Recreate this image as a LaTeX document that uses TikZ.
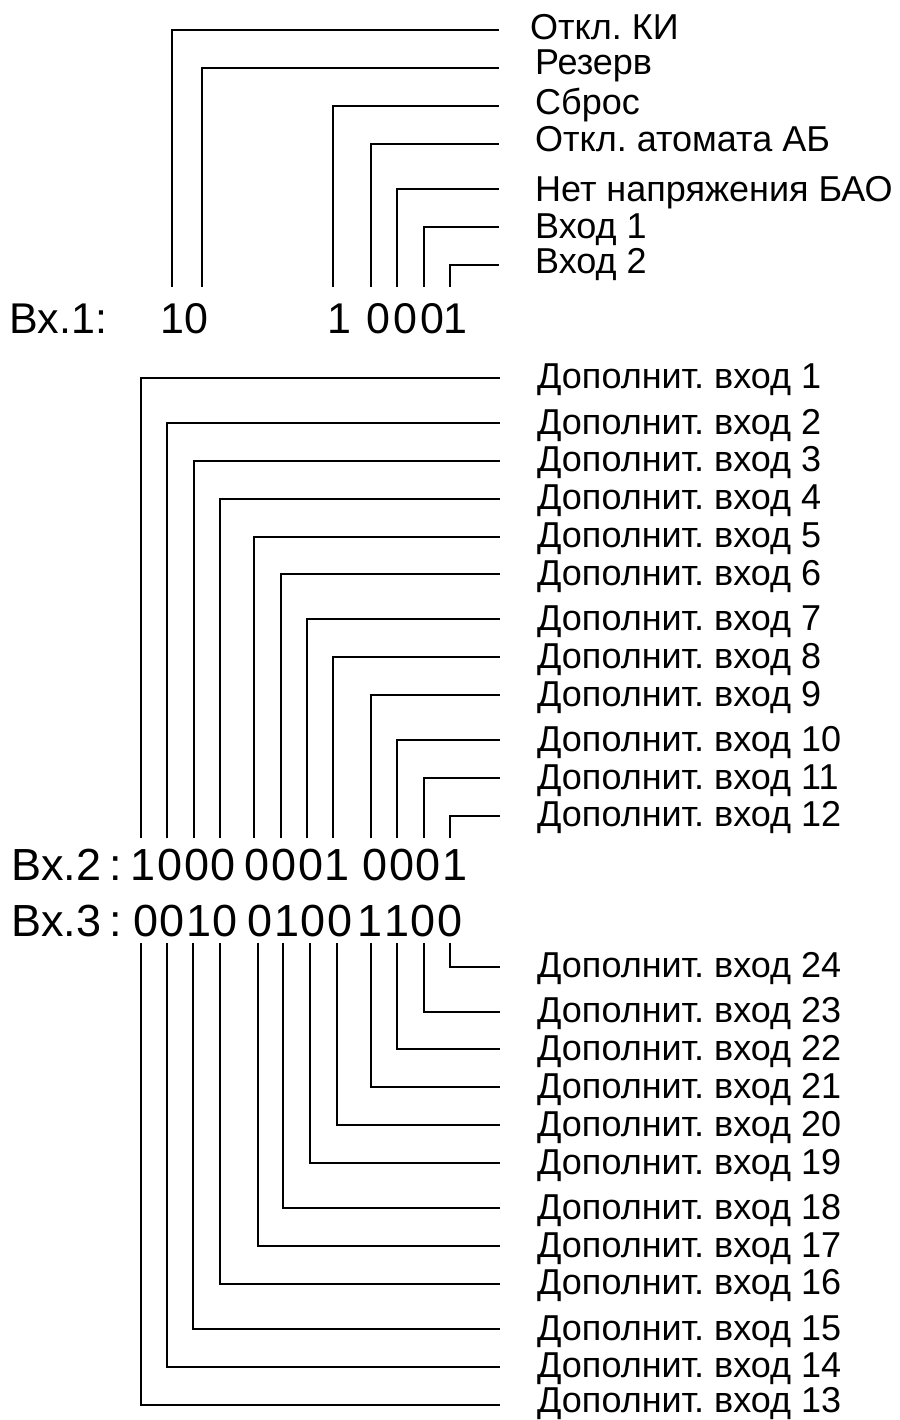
\documentclass[tikz,border=0pt]{standalone}
\usepackage{fontspec}
\setmainfont{Liberation Sans}
\frenchspacing
\begin{document}
\frenchspacing
\begin{tikzpicture}[x=1pt,y=-1pt,
  wire/.style={line width=1.8pt, line join=miter},
  lab/.style={anchor=base west, inner sep=0pt, font=\fontsize{36}{40}\selectfont},
  dig/.style={anchor=base, inner sep=0pt, font=\fontsize{45}{50}\selectfont},
  digA/.style={anchor=base, inner sep=0pt, font=\fontsize{43}{48}\selectfont},
  head/.style={anchor=base west, inner sep=0pt}]
\useasboundingbox (0,0) rectangle (899,1420);

% ---- Bx.1 section
\foreach \i/\vx/\hy/\bl/\lx/\t in {
  1/172/30/39.3/530/{Откл. КИ},
  2/202/67.7/75/535/{Резерв},
  3/333/106/115/535/{Сброс},
  4/371/144/151.7/535/{Откл. атомата АБ},
  5/397/189.3/201.7/535/{Нет напряжения БАО},
  6/424/227.3/238.3/535/{Вход 1},
  7/450/265/273.3/535/{Вход 2}} {
  \coordinate (ta\i) at (\vx,287);
  \coordinate (tb\i) at (499,\hy);
  \draw[wire] (ta\i) |- (tb\i);
  \node[lab] (tl\i) at (\lx,\bl) {\t};
}
\node[head, font=\fontsize{43}{48}\selectfont] (bx1) at (9.5,333) {Вх.1:};
\foreach \j/\cx/\d in {1/172/1, 2/196/0, 3/339/1, 4/378/0, 5/405/0, 6/432/0, 7/455/1} {
  \node[digA] (d1\j) at (\cx,333) {\d};
}

% ---- Bx.2 section
\foreach \i/\vx/\hy in {
  1/140.7/377.7, 2/167.3/423.3, 3/193.7/460.7, 4/220/498.7,
  5/254/536.7, 6/280.7/574.3, 7/307/619.3, 8/333.3/657,
  9/371/695, 10/397.3/740, 11/423.7/778, 12/450/815.7} {
  \coordinate (ma\i) at (\vx,838);
  \coordinate (mb\i) at (500,\hy);
  \draw[wire] (ma\i) |- (mb\i);
  \node[lab] (ml\i) at (537,\hy+11) {Дополнит. вход \i};
}
\node[head, font=\fontsize{45}{50}\selectfont] (bx2) at (11.4,880) {Вх.2};
\node[dig] (c2) at (116,880) {:};
\foreach \j/\cx/\d in {1/143.5/1, 2/170/0, 3/196.6/0, 4/223.2/0,
  5/257.5/0, 6/284.1/0, 7/310.7/0, 8/337.3/1,
  9/375/0, 10/401.6/0, 11/428.2/0, 12/454.8/1} {
  \node[dig] (d2\j) at (\cx,880) {\d};
}

% ---- Bx.3 section
\node[head, font=\fontsize{45}{50}\selectfont] (bx3) at (11.4,936.7) {Вх.3};
\node[dig] (c3) at (116,936.7) {:};
\foreach \j/\cx/\d in {1/146/0, 2/172.5/0, 3/199/1, 4/225.5/0,
  5/260/0, 6/286.6/1, 7/313.2/0, 8/339.8/0,
  9/370.5/1, 10/397/1, 11/423.5/0, 12/450/0} {
  \node[dig] (d3\j) at (\cx,936.7) {\d};
}
\foreach \i/\vx/\hy/\bl in {
  13/141/1404.7/1412.5, 14/167/1366.7/1377.7, 15/193.3/1329/1340, 16/220/1283.7/1294.7,
  17/257.7/1246/1257, 18/283.3/1208/1219, 19/310/1163/1174, 20/337/1125.3/1136.3,
  21/371/1087.3/1098.3, 22/397/1049.3/1060.3, 23/423.7/1011.7/1022.7, 24/450/966.7/977.7} {
  \coordinate (ba\i) at (\vx,943.3);
  \coordinate (bb\i) at (500,\hy);
  \draw[wire] (ba\i) |- (bb\i);
  \node[lab] (bl\i) at (537,\bl) {Дополнит. вход \i};
}
\end{tikzpicture}
\end{document}
